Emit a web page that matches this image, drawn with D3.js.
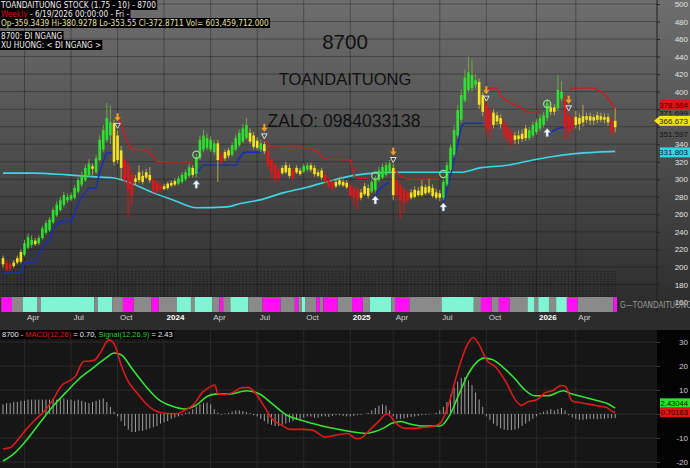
<!DOCTYPE html>
<html>
<head>
<meta charset="utf-8">
<script src="https://cdn.jsdelivr.net/npm/d3@7"></script>
<style>
  html, body { margin: 0; padding: 0; background: #000; }
  svg { display: block; font-family: 'Liberation Sans', Arial, sans-serif; }
</style>
</head>
<body>
<svg id="chart" width="690" height="468"></svg>
<script>
// weekly bars, index 0 = late Feb 2023, index 171 = 6/19/2026
const open = [
  210, 205, 203, 201, 205, 206, 214, 222, 225, 230,
  227, 233, 239, 242, 251, 259, 265, 271, 276, 277,
  279, 286, 294, 299, 305, 315, 308, 322, 334, 345,
  350, 364, 350, 333, 322, 316, 305, 297, 299, 304,
  302, 305, 299, 296, 293, 289, 290, 293, 294, 295,
  297, 300, 304, 313, 306, 324, 334, 336, 334, 331,
  341, 328, 324, 327, 328, 334, 339, 343, 347, 353,
  350, 344, 334, 340, 333, 322, 316, 310, 307, 308,
  313, 310, 308, 310, 309, 311, 316, 313, 304, 310,
  305, 299, 297, 292, 294, 297, 291, 293, 290, 288,
  279, 283, 290, 286, 288, 299, 302, 305, 308, 313,
  299, 293, 288, 285, 279, 280, 287, 282, 291, 285,
  290, 285, 279, 279, 294, 311, 328, 350, 368, 390,
  402, 404, 408, 411, 396, 385, 379, 362, 373, 363,
  365, 358, 354, 345, 350, 346, 347, 347, 350, 354,
  358, 362, 370, 382, 377, 381, 392, 390, 373, 370,
  362, 370, 365, 372, 367, 371, 368, 372, 368, 371,
  367, 359.34
]
const high = [
  213, 208, 206, 208, 213, 220, 231, 238, 236, 233,
  236, 247, 253, 257, 268, 275, 280, 286, 284, 285,
  293, 302, 309, 317, 323, 318, 328, 350, 362, 387,
  384, 368, 356, 338, 326, 320, 310, 305, 316, 310,
  312, 314, 302, 299, 296, 295, 297, 299, 301, 304,
  308, 311, 318, 316, 329, 350, 356, 352, 349, 345,
  345, 331, 334, 336, 342, 351, 357, 363, 370, 358,
  354, 348, 345, 343, 336, 325, 319, 313, 316, 320,
  317, 313, 316, 313, 318, 319, 319, 316, 311, 313,
  308, 302, 300, 300, 302, 300, 299, 296, 293, 291,
  289, 296, 294, 300, 304, 314, 318, 320, 322, 318,
  302, 296, 291, 288, 289, 292, 291, 299, 294, 300,
  294, 289, 288, 300, 320, 340, 362, 385, 402, 425,
  440, 436, 420, 415, 400, 388, 382, 380, 377, 374,
  368, 361, 357, 354, 356, 357, 362, 360, 366, 369,
  374, 377, 392, 386, 386, 419, 412, 395, 376, 373,
  378, 375, 385, 376, 376, 374, 377, 376, 375, 375,
  370, 380.93
]
const low = [
  199, 195, 195, 199, 203, 204, 212, 220, 222, 224,
  225, 231, 237, 240, 249, 257, 263, 268, 273, 275,
  277, 284, 291, 297, 303, 305, 306, 320, 331, 342,
  340, 316, 318, 299, 295, 257, 270, 293, 296, 294,
  300, 296, 285, 283, 285, 287, 288, 291, 292, 293,
  295, 298, 302, 302, 302, 322, 331, 333, 331, 328,
  297, 317, 321, 324, 326, 332, 337, 341, 345, 340,
  334, 333, 331, 329, 312, 300, 296, 298, 305, 306,
  301, 299, 306, 304, 307, 309, 308, 303, 302, 299,
  294, 289, 286, 290, 292, 291, 289, 278, 270, 265,
  276, 281, 278, 284, 285, 297, 300, 303, 306, 276,
  276, 255, 262, 273, 277, 278, 280, 280, 282, 283,
  279, 277, 275, 276, 292, 308, 325, 347, 365, 388,
  399, 400, 404, 380, 372, 350, 345, 358, 362, 358,
  346, 340, 337, 340, 340, 343, 344, 344, 347, 351,
  355, 359, 366, 373, 373, 378, 389, 345, 345, 353,
  358, 356, 360, 364, 362, 362, 364, 365, 364, 361,
  350, 353.55
]
const close = [
  203, 197, 198, 205, 210, 217, 227, 234, 231, 226,
  233, 244, 250, 254, 265, 271, 276, 282, 280, 282,
  290, 299, 305, 313, 318, 312, 324, 345, 356, 370,
  365, 320, 322, 313, 299, 288, 282, 301, 308, 297,
  308, 299, 288, 286, 288, 292, 295, 296, 298, 301,
  305, 308, 314, 305, 325, 345, 350, 347, 345, 341,
  322, 320, 331, 333, 339, 347, 353, 358, 362, 343,
  337, 336, 341, 332, 316, 308, 301, 301, 313, 316,
  304, 301, 313, 306, 315, 316, 311, 306, 308, 302,
  297, 292, 290, 297, 299, 293, 296, 282, 279, 277,
  285, 292, 281, 297, 301, 310, 314, 316, 318, 282,
  282, 276, 273, 276, 285, 288, 282, 292, 284, 292,
  281, 279, 284, 297, 316, 336, 356, 379, 396, 416,
  422, 419, 413, 385, 377, 358, 356, 376, 366, 370,
  350, 345, 342, 350, 346, 352, 358, 356, 362, 365,
  370, 373, 387, 377, 382, 402, 400, 358, 354, 358,
  371, 363, 372, 368, 372, 367, 373, 368, 371, 365,
  353, 366.67
]
// trend state per bar: g = up, y = sideways, r = down
const trend = ['yrryyy', 'ggg', 'y', 'g', 'gggggggggggggg', 'y', 'ggggg', 'yyy', 'rrr', 'yyyyy',
  'rrr', 'yyyy', 'gggg', 'y', 'gggggg', 'y', 'r', 'yy', 'ggggg', 'yyy', 'g', 'y', 'rrrr', 'yyy',
  'r', 'yy', 'gg', 'yyyy', 'rrr', 'yyyy', 'rrr', 'yyy', 'gggggg', 'y', 'rrrr', 'yyyyyyyyy',
  'gggggggggg', 'yy', 'rr', 'yyy', 'rrr', 'yyyy', 'gggggg', 'yy', 'gg', 'rrr', 'yyyyyyyyyy', 'r', 'y'].join('')

// stop lines as [barIndex, price]
const supportLines = [
  [[0, 193], [5, 193], [6, 205], [9, 206], [10, 215], [11, 223], [12, 228], [13, 231], [14, 242], [15, 248],
    [16, 252], [19, 252], [20, 262], [21, 272], [22, 280], [23, 285], [24, 290], [26, 290], [27, 308], [28, 320], [29, 330], [31, 330]],
  [[54, 305], [55, 312], [56, 316], [65, 316], [66, 324], [67, 330], [68, 331], [72, 331]],
  [[104, 280], [105, 288], [106, 292], [107, 295], [108, 296]],
  [[123, 273], [124, 288], [125, 305], [126, 322], [127, 340], [128, 360], [129, 364], [134, 364]],
  [[152, 350], [153, 354], [154, 356], [155, 358], [156, 359], [159, 360]]
]
const resistLines = [
  [[32, 373], [33, 364], [34, 350], [35, 340], [36, 334], [40, 334], [41, 330], [42, 326], [43, 320], [53, 320]],
  [[73, 345], [74, 340], [75, 337], [86, 336], [87, 333], [88, 331], [89, 326], [90, 323], [97, 322], [98, 305], [99, 301], [102, 301]],
  [[109, 314], [110, 308], [111, 304], [112, 302], [113, 300], [122, 300]],
  [[135, 404], [138, 404], [139, 395], [140, 392], [141, 389], [142, 387], [143, 385], [144, 383], [145, 381], [146, 377], [150, 377]],
  [[158, 402], [159, 404], [165, 404], [166, 402], [167, 400], [168, 397], [169, 393], [170, 386], [171, 378.6]]
]
const maLine = [[0, 307], [8.5, 307], [18, 305], [27, 302.5], [31, 301.5], [35.5, 296], [42, 284.5], [47.5, 276.5],
  [54, 267.5], [62.6, 268.5], [66, 272], [71.8, 276.5], [78.2, 284.5], [85, 291], [92, 299], [99, 305], [103.5, 307],
  [110, 308], [117.3, 308], [124, 308], [127.7, 308], [133.2, 313], [140.8, 316], [148, 322], [152.8, 325.5],
  [159.2, 329], [165.9, 331], [171, 331.8]]

// signals [barIndex, price]
const buyArrows = [[54, 299], [104, 281], [123, 273], [152, 358]]
const sellArrows = [[32, 365], [73, 353], [109, 326], [135, 396], [158, 385]]
const circles = [[54, 328], [104, 304], [123, 306], [152, 386]]

// colour strip [fromBar, toBar, state]
const stripSegs = [[0, 2, 'm'], [3, 5, 'g'], [6, 9, 'c'], [10, 10, 'g'], [11, 25, 'c'], [26, 26, 'g'], [27, 30, 'c'],
  [31, 33, 'g'], [34, 36, 'm'], [37, 41, 'g'], [42, 43, 'm'], [44, 48, 'g'], [49, 52, 'c'], [53, 53, 'g'], [54, 58, 'c'],
  [59, 60, 'g'], [61, 61, 'm'], [62, 63, 'g'], [64, 68, 'c'], [69, 72, 'g'], [73, 77, 'm'], [78, 81, 'g'], [82, 82, 'm'],
  [83, 83, 'g'], [84, 84, 'c'], [85, 87, 'g'], [88, 88, 'm'], [89, 89, 'g'], [90, 93, 'm'], [94, 97, 'g'], [98, 100, 'm'],
  [101, 102, 'g'], [103, 108, 'c'], [109, 109, 'g'], [110, 113, 'm'], [114, 122, 'g'], [123, 131, 'c'], [132, 133, 'g'],
  [134, 136, 'm'], [137, 138, 'g'], [139, 141, 'm'], [142, 146, 'g'], [147, 148, 'c'], [149, 149, 'g'], [150, 152, 'c'],
  [153, 154, 'g'], [155, 157, 'c'], [158, 160, 'm'], [161, 170, 'g'], [171, 171, 'm']]

// MACD panel [barIndex, value]
const macdLine = [[0, -14.6], [2, -14], [4, -11], [6.5, -6.4], [9, -2.4], [11.5, 1.1], [14, 6.1], [16.4, 11.9], [18.2, 13.6],
  [20.1, 15.4], [22.5, 21.9], [24.4, 22.1], [25.6, 22.5], [27.4, 26.1], [29.6, 30.9], [31.1, 29], [33, 20.4], [34.8, 14],
  [37.3, 9], [39.7, 4.7], [42.2, 1.6], [44.6, 0.4], [48.3, 0.1], [50.8, 1.6], [53.3, 4], [55.7, 9], [57.6, 11.1],
  [59.2, 12.1], [60, 8.3], [61.9, 8], [64.3, 9], [66.8, 11], [68.6, 11], [70.5, 8.7], [72.9, 3.3], [75.4, -2.4],
  [77.8, -4.6], [80.3, -6.4], [84, -6.4], [86.4, -6.7], [90.1, -9.6], [92.6, -8.9], [96.3, -8.1], [98.7, -10.3],
  [100, -10], [102.4, -6.7], [104.9, -3.1], [107.3, 0.1], [109.8, -3.9], [112.3, -6], [114.7, -6], [117.2, -5.6],
  [119.6, -5.3], [122.1, -3.9], [124.6, 4.7], [127, 17.6], [129.5, 28.3], [131.3, 31.9], [133.2, 28.3], [135, 22.6],
  [137.5, 19.7], [140.5, 13.3], [143, 6.1], [144.8, 3.6], [146.7, 5.1], [149.1, 5.9], [151.6, 9], [153.5, 9.7],
  [155.9, 11.9], [157.1, 11.5], [159, 5.4], [161.4, 4.7], [163.9, 4], [166.4, 3.3], [168.8, 2.6], [170, 1.2], [171, 0.7]]
const signalLine = [[0, -19.6], [2.9, -16.7], [6.5, -11], [10.2, -3.9], [14, 3.3], [17.6, 9], [21.3, 14.7], [25, 19],
  [28.7, 23.3], [31.1, 25.4], [33, 24.7], [36, 19], [39.7, 11.9], [43.4, 6.1], [47.1, 3.3], [50.8, 2.1], [53.9, 3.6],
  [57, 7.3], [59.4, 8.3], [63.1, 8.3], [68, 9.7], [71.7, 8.3], [75.4, 4], [79, -0.3], [82.8, -2.4], [86.4, -3.9],
  [90.1, -5.3], [93.8, -6.4], [97.5, -7.4], [101.2, -8.1], [103.7, -7.4], [106.1, -6], [108.6, -3.9], [111, -3.1],
  [113.5, -4.1], [117.2, -5], [122.1, -5], [124.6, -1], [127, 6.9], [129.5, 15.4], [132, 21.1], [134.4, 23.3],
  [136.8, 22.6], [140, 19], [143, 14.7], [145.5, 10.4], [148.5, 7.6], [152.2, 7.6], [156.5, 9.7], [159, 8.3],
  [162.7, 6.9], [166.4, 5.4], [168.8, 4.4], [171, 2.43]]
const histogram = [
  4, 4.5, 4.5, 5, 5, 5.5, 5.5, 6, 6, 6, 6, 6, 6, 6, 6.5, 6, 6.5, 6.5, 6, 6, 5.5, 6, 5.5, 5, 4.5, 5, 5.5, 6, 6.5, 5, 3, 1,
  -1, -3, -5, -6.5, -7.5, -7.5, -7, -7, -6.5, -6, -5.5, -5, -4, -3.5, -3, -2, -1.5, -1, -0.5,
  0.5, 1, 2, 3, 4, 4.5, 4.7, 4, 2, 0.5, -0.3, 0.2,
  0.5, 1, 1.5, 1.5, 1.2, 0.8, 0.3, -0.5,
  -1, -2, -3, -4, -4.5, -5, -5, -4.5, -4, -3.5, -3, -2.5, -2, -1.5,
  -1, -1, -1.5, -1.5, -1, -1, -1.2, -0.8, -0.5, -0.5, -0.8, -1, -1, -0.8, -0.5, -0.3, 0,
  0.5, 1.5, 2.5, 3.5, 4, 3.5, 1.5,
  -1, -2, -2, -1.8, -1.5, -1.2, -1, -0.8,
  -0.5, -0.3, -0.2, 0,
  0.5, 1.5, 3, 5, 8, 11, 13.5, 15, 15.4, 14, 12, 9, 6, 3,
  -1, -2.5, -4, -5, -6, -6.5, -6.7, -6.7, -6.5, -6, -5, -4, -3, -2, -1,
  0.5, 1, 1.5, 2, 1.5, 2, 2.5, 1.5,
  -0.5, -1.5, -2, -2.4, -2.4, -2.2, -2, -2, -2.2, -2, -2, -1.8, -1.8, -1.73
]

// time axis
const tickBars = [6, 19, 32, 45, 58, 71, 84, 97, 109, 122, 135, 149, 160]
const tickLabels = ['Apr', 'Jul', 'Oct', '2024', 'Apr', 'Jul', 'Oct', '2025', 'Apr', 'Jul', 'Oct', '2026', 'Apr']

// right side tags
const priceTags = [378.584, 371.699, 366.673, 351.597, 331.803]
const macdTags = [2.43044, 0.70163]

const plotRight = 657
const narrow = "'Liberation Sans Narrow', 'DejaVu Sans Condensed', Arial, sans-serif"
const svg = d3.select('#chart')

const xScale = d3.scaleLinear().domain([0, 171]).range([3, 615.2])
const yPrice = d3.scaleLinear().domain([160, 500]).range([302, 4])
const yMacd = d3.scaleLinear().domain([-20, 30]).range([462, 342])
const step = xScale(1) - xScale(0)

// backgrounds
const defs = svg.append('defs')
const grad = defs.append('linearGradient').attr('id', 'bg')
  .attr('x1', 0).attr('y1', 0).attr('x2', 0).attr('y2', 1)
grad.append('stop').attr('offset', '0%').attr('stop-color', '#6e6e6e')
grad.append('stop').attr('offset', '100%').attr('stop-color', '#2b2b2b')

svg.append('rect').attr('x', 0).attr('y', 0).attr('width', 690).attr('height', 313).attr('fill', 'url(#bg)')
svg.append('rect').attr('x', 0).attr('y', 313).attr('width', 690).attr('height', 17).attr('fill', '#2c2c2c')
svg.append('rect').attr('x', 0).attr('y', 330).attr('width', plotRight).attr('height', 138).attr('fill', '#161616')
svg.append('rect').attr('x', plotRight).attr('y', 330).attr('width', 690 - plotRight).attr('height', 138).attr('fill', '#030303')

// grids
const grid = svg.append('g')
grid.selectAll('.hg').data(d3.range(180, 501, 20)).join('line')
  .attr('x1', 0).attr('x2', plotRight)
  .attr('y1', d => yPrice(d)).attr('y2', d => yPrice(d))
  .attr('stroke', 'rgba(0,0,0,0.3)')
grid.selectAll('.vg').data(tickBars).join('line')
  .attr('x1', d => xScale(d)).attr('x2', d => xScale(d))
  .attr('y1', 0).attr('y2', 313)
  .attr('stroke', 'rgba(0,0,0,0.3)')
grid.selectAll('.mh').data(d3.range(-20, 31, 10)).join('line')
  .attr('x1', 0).attr('x2', plotRight)
  .attr('y1', d => yMacd(d)).attr('y2', d => yMacd(d))
  .attr('stroke', '#2a2a2a')
grid.selectAll('.mv').data(tickBars).join('line')
  .attr('x1', d => xScale(d)).attr('x2', d => xScale(d))
  .attr('y1', 330).attr('y2', 468)
  .attr('stroke', '#2a2a2a')

// dotted volume band
svg.append('g').selectAll('line').data(d3.range(172)).join('line')
  .attr('x1', d => xScale(d)).attr('x2', d => xScale(d))
  .attr('y1', 271).attr('y2', 297)
  .attr('stroke', '#1c1c1c').attr('stroke-width', 1.2)
  .attr('stroke-dasharray', '1,1.5')

// colour strip
const stripColors = { m: '#ff10f0', c: '#7ff5d4', g: '#8a8a8a' }
svg.append('g').selectAll('rect').data(stripSegs).join('rect')
  .attr('x', d => xScale(d[0]) - step / 2)
  .attr('width', d => xScale(d[1]) - xScale(d[0]) + step)
  .attr('y', 297).attr('height', 15)
  .attr('fill', d => stripColors[d[2]])

// moving average
const lineGen = d3.line().x(d => xScale(d[0])).y(d => yPrice(d[1]))
svg.append('path').datum(maLine)
  .attr('d', lineGen.curve(d3.curveMonotoneX))
  .attr('fill', 'none').attr('stroke', '#3fd3e3').attr('stroke-width', 1.6)

// stop lines
const stepLine = d3.line().x(d => xScale(d[0])).y(d => yPrice(d[1]))
svg.append('g').selectAll('path').data(supportLines).join('path')
  .attr('d', stepLine).attr('fill', 'none').attr('stroke', '#1830b0').attr('stroke-width', 1.6)
svg.append('g').selectAll('path').data(resistLines).join('path')
  .attr('d', stepLine).attr('fill', 'none').attr('stroke', '#cc1c1c').attr('stroke-width', 1.4)

// candles
const bodyColors = { g: '#2de22d', y: '#f6e31c', r: '#e0161a' }
const wickColors = { g: '#6fa64a', y: '#b9a743', r: 'rgba(210,25,25,0.55)' }
const bars = d3.range(172)
const candles = svg.append('g')
candles.selectAll('line').data(bars).join('line')
  .attr('x1', i => xScale(i)).attr('x2', i => xScale(i))
  .attr('y1', i => yPrice(high[i])).attr('y2', i => yPrice(low[i]))
  .attr('stroke', i => wickColors[trend[i]])
  .attr('stroke-width', i => trend[i] === 'r' ? 2.2 : 1)
candles.selectAll('rect').data(bars).join('rect')
  .attr('x', i => xScale(i) - 1.3)
  .attr('width', 2.6)
  .attr('y', i => yPrice(Math.max(open[i], close[i])))
  .attr('height', i => Math.max(1.2, Math.abs(yPrice(open[i]) - yPrice(close[i]))))
  .attr('fill', i => bodyColors[trend[i]])

// signals
const marks = svg.append('g')
marks.selectAll('.circ').data(circles).join('circle')
  .attr('cx', d => xScale(d[0])).attr('cy', d => yPrice(d[1])).attr('r', 3.6)
  .attr('fill', 'none').attr('stroke', '#8fe08f').attr('stroke-width', 1.2)
marks.selectAll('.buy').data(buyArrows).join('path')
  .attr('transform', d => `translate(${xScale(d[0])},${yPrice(d[1])})`)
  .attr('d', 'M0,0 L3.5,4 L1.2,4 L1.2,8 L-1.2,8 L-1.2,4 L-3.5,4 Z')
  .attr('fill', '#f4f8ff').attr('stroke', '#8aa0d0').attr('stroke-width', 0.4)
const sell = marks.selectAll('.sell').data(sellArrows).join('g')
  .attr('transform', d => `translate(${xScale(d[0])},${yPrice(d[1])})`)
sell.append('path')
  .attr('d', 'M-1,-9 L1,-9 L1,-5 L3.2,-5 L0,-1 L-3.2,-5 L-1,-5 Z')
  .attr('fill', '#f5a020')
sell.append('path')
  .attr('d', 'M-2.8,1 L2.8,1 L0,6 Z')
  .attr('fill', 'none').attr('stroke', '#f0f0f0').attr('stroke-width', 0.9)

// price tags positions (pushed apart around the last price)
const tagYs = priceTags.map(v => yPrice(v))
for (let i = 1; i >= 0; i--) tagYs[i] = Math.min(tagYs[i], tagYs[i + 1] - 8)
for (let i = 3; i < tagYs.length; i++) tagYs[i] = Math.max(tagYs[i], tagYs[i - 1] + 8)
tagYs[4] += 1

// price axis: labels hidden behind the tags are dropped, as in the original
const priceTicks = d3.range(160, 501, 20).filter(v => tagYs.every(y => Math.abs(yPrice(v) - y) > 6))
svg.append('line').attr('x1', plotRight).attr('x2', plotRight).attr('y1', 0).attr('y2', 313).attr('stroke', '#1e1e1e')
svg.append('g').attr('transform', `translate(${plotRight},0)`)
  .call(d3.axisRight(yPrice).tickValues(d3.range(160, 501, 20)).tickSize(3).tickFormat(v => priceTicks.includes(v) ? v : ''))
  .call(g => g.select('.domain').remove())
  .call(g => g.selectAll('line').attr('stroke', '#222'))
  .call(g => g.selectAll('text').attr('x', 31).attr('text-anchor', 'end')
    .attr('fill', '#e2e2e2').style('font-size', '8px').style('font-family', 'Liberation Sans, Arial'))

svg.append('text').attr('x', 620).attr('y', 308).attr('fill', '#9a9a9a')
  .style('font-size', '8px').style('font-family', narrow).text('G—TOANDAITUONG')

const tagStyle = [
  { bg: '#e01414', fg: '#3a0000' },
  { bg: null, fg: '#141414' },
  { bg: '#f3e31e', fg: '#1a1a00', arrow: true },
  { bg: null, fg: '#141414' },
  { bg: '#34d4e4', fg: '#002030' }
]
priceTags.forEach((v, i) => {
  const s = tagStyle[i]
  const y = tagYs[i]
  if (s.bg) {
    if (s.arrow) {
      svg.append('path').attr('d', `M${plotRight - 3},${y} L${plotRight + 3},${y - 5} L690,${y - 5} L690,${y + 5} L${plotRight + 3},${y + 5} Z`)
        .attr('fill', s.bg)
    } else {
      svg.append('rect').attr('x', plotRight + 3).attr('y', y - 5).attr('width', 690 - plotRight - 3).attr('height', 10).attr('fill', s.bg)
    }
  }
  svg.append('text').attr('x', 688).attr('y', y + 3).attr('text-anchor', 'end')
    .attr('fill', s.fg).style('font-size', '8px').text(v.toFixed(3))
})

// time axis
const tAxis = svg.append('g').attr('transform', 'translate(0,313)')
  .call(d3.axisBottom(xScale).tickValues(tickBars).tickSize(0).tickFormat((d, i) => tickLabels[i]))
tAxis.select('.domain').remove()
tAxis.selectAll('text')
  .attr('x', 2).attr('y', 7).attr('dy', 0)
  .attr('text-anchor', 'start')
  .attr('fill', (d, i) => /^\d/.test(tickLabels[i]) ? '#ffffff' : '#d0d0d0')
  .style('font-weight', (d, i) => /^\d/.test(tickLabels[i]) ? 'bold' : 'normal')
  .style('font-size', '8px').style('font-family', 'Liberation Sans, Arial')

// MACD panel
svg.append('g').selectAll('line').data(histogram).join('line')
  .attr('x1', (d, i) => xScale(i)).attr('x2', (d, i) => xScale(i))
  .attr('y1', yMacd(0)).attr('y2', d => yMacd(d))
  .attr('stroke', '#a0a0a0').attr('stroke-width', 1)
const macdGen = d3.line().x(d => xScale(d[0])).y(d => yMacd(d[1])).curve(d3.curveMonotoneX)
svg.append('path').datum(signalLine).attr('d', macdGen)
  .attr('fill', 'none').attr('stroke', '#36e336').attr('stroke-width', 1.6)
svg.append('path').datum(macdLine).attr('d', macdGen)
  .attr('fill', 'none').attr('stroke', '#e01a1a').attr('stroke-width', 1.6)

const mTagYs = macdTags.map(v => yMacd(v))
mTagYs[0] = Math.min(mTagYs[0], mTagYs[1] - 9)
const macdTicks = d3.range(-20, 31, 10).filter(v => mTagYs.every(y => Math.abs(yMacd(v) - y) > 6))
svg.append('g').attr('transform', `translate(${plotRight},0)`)
  .call(d3.axisRight(yMacd).tickValues(d3.range(-20, 31, 10)).tickSize(3).tickFormat(v => macdTicks.includes(v) ? v : ''))
  .call(g => g.select('.domain').remove())
  .call(g => g.selectAll('line').attr('stroke', '#444'))
  .call(g => g.selectAll('text').attr('x', 31).attr('text-anchor', 'end')
    .attr('fill', '#cfcfcf').style('font-size', '8px').style('font-family', 'Liberation Sans, Arial'))

const mTagStyle = [{ bg: '#2de02d', fg: '#002000' }, { bg: '#e01414', fg: '#2a0000' }]
macdTags.forEach((v, i) => {
  svg.append('rect').attr('x', plotRight + 3).attr('y', mTagYs[i] - 5).attr('width', 690 - plotRight - 3).attr('height', 10)
    .attr('fill', mTagStyle[i].bg)
  svg.append('text').attr('x', 688).attr('y', mTagYs[i] + 3).attr('text-anchor', 'end')
    .attr('fill', mTagStyle[i].fg).style('font-size', '7.6px').text(v.toFixed(5))
})

// text boxes with black background
function boxText (x, y, parts, size, family) {
  const g = svg.append('g')
  const t = g.append('text').attr('x', x).attr('y', y).style('font-size', size + 'px')
  if (family) t.style('font-family', family)
  parts.forEach(p => t.append('tspan').attr('fill', p[1]).text(p[0]))
  const b = t.node().getBBox()
  g.insert('rect', 'text').attr('x', b.x - 1).attr('y', b.y).attr('width', b.width + 2).attr('height', b.height)
    .attr('fill', '#000')
}
boxText(1, 8, [['TOANDAITUONG STOCK (1.75 - 10) - 8700', '#f0f0f0']], 8.2, narrow)
boxText(1, 17, [[' Weekly', '#d01c1c'], [' - 6/19/2026 00:00:00  -  Fri  -', '#f0f0f0']], 8.2, narrow)
boxText(1, 26, [['Op-359.3439  Hi-380.9278  Lo-353.55  Cl-372.8711  Vol= 603,459,712.000', '#e8e4a8']], 8.2, narrow)
boxText(1, 39, [['8700: ĐI NGANG', '#f0f0f0']], 8.2, narrow)
boxText(1, 48, [['XU HUONG: < ĐI NGANG >', '#f0f0f0']], 8.2, narrow)
boxText(2, 337, [['8700 - ', '#f0f0f0'], ['MACD(12,26)', '#e02020'], [' = 0.70, ', '#f0f0f0'],
  ['Signal(12,26,9)', '#30d030'], [' = 2.43', '#f0f0f0']], 7.5)

// watermark texts
const wm = svg.append('g').attr('fill', '#111').attr('text-anchor', 'middle')
wm.append('text').attr('x', 345).attr('y', 49).style('font-size', '20.5px').text('8700')
wm.append('text').attr('x', 345).attr('y', 85).style('font-size', '16.5px').text('TOANDAITUONG')
wm.append('text').attr('x', 344).attr('y', 127).style('font-size', '17.5px').text('ZALO: 0984033138')
</script>
</body>
</html>
